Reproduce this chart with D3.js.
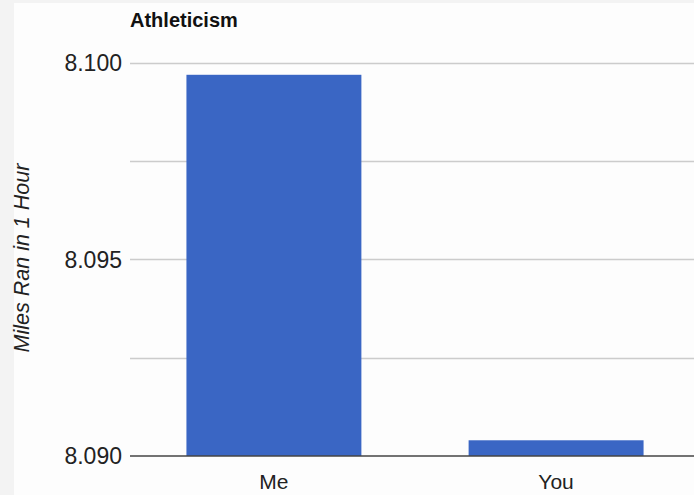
<!DOCTYPE html>
<html>
<head>
<meta charset="utf-8">
<script src="https://cdn.jsdelivr.net/npm/d3@7"></script>
<style>
  html, body { margin: 0; padding: 0; background: #fdfdfd; }
  svg { display: block; font-family: "Liberation Sans", Arial, sans-serif; }
</style>
</head>
<body>
<svg id="chart"></svg>
<script>
const categories = ["Me", "You"];
const values = [8.0997, 8.0904];
const gridTicks = [8.09, 8.0925, 8.095, 8.0975, 8.1];
const labelTicks = [8.09, 8.095, 8.1];

const width = 694;
const height = 495;
const plotLeft = 130;
const plotRight = 700;
const plotTop = 63;
const plotBottom = 456;

const svg = d3.select("#chart").attr("width", width).attr("height", height);

// faint frame at the left/top edge
svg.append("rect").attr("x", 0).attr("y", 0).attr("width", width).attr("height", height).attr("fill", "#fdfdfd");
svg.append("rect").attr("x", 0).attr("y", 0).attr("width", 14).attr("height", height).attr("fill", "#f3f3f3");
svg.append("rect").attr("x", 0).attr("y", 0).attr("width", width).attr("height", 3).attr("fill", "#f3f3f3");

const x = d3.scaleBand()
  .domain(categories)
  .range([plotLeft, plotRight])
  .paddingInner(0.38)
  .paddingOuter(0.2);

const y = d3.scaleLinear()
  .domain([8.09, 8.1])
  .range([plotBottom, plotTop]);

// gridlines
svg.append("g")
  .selectAll("line")
  .data(gridTicks.filter((t) => t !== 8.09))
  .enter()
  .append("line")
  .attr("x1", plotLeft)
  .attr("x2", width)
  .attr("y1", (d) => Math.round(y(d)) + 0.5)
  .attr("y2", (d) => Math.round(y(d)) + 0.5)
  .attr("stroke", "#cccccc")
  .attr("stroke-width", 1.5);

// bars
svg.append("g")
  .selectAll("rect")
  .data(categories)
  .enter()
  .append("rect")
  .attr("x", (d) => x(d))
  .attr("y", (d, i) => y(values[i]))
  .attr("width", x.bandwidth())
  .attr("height", (d, i) => plotBottom - y(values[i]))
  .attr("fill", "#3a66c4");

// baseline
svg.append("line")
  .attr("x1", plotLeft)
  .attr("x2", width)
  .attr("y1", y(8.09))
  .attr("y2", y(8.09))
  .attr("stroke", "#444444")
  .attr("stroke-width", 1.5);

// y tick labels
svg.append("g")
  .selectAll("text")
  .data(labelTicks)
  .enter()
  .append("text")
  .attr("x", 122)
  .attr("y", (d) => y(d))
  .attr("dy", "0.35em")
  .attr("text-anchor", "end")
  .attr("font-size", 23)
  .attr("fill", "#222")
  .text((d) => d3.format(".3f")(d));

// x labels
svg.append("g")
  .selectAll("text")
  .data(categories)
  .enter()
  .append("text")
  .attr("x", (d) => x(d) + x.bandwidth() / 2)
  .attr("y", 489)
  .attr("text-anchor", "middle")
  .attr("font-size", 21)
  .attr("fill", "#222")
  .text((d) => d);

// title
svg.append("text")
  .attr("x", 130)
  .attr("y", 27)
  .attr("font-size", 20)
  .attr("font-weight", "bold")
  .attr("fill", "#111")
  .text("Athleticism");

// y axis title
svg.append("text")
  .attr("transform", "translate(29,258) rotate(-90)")
  .attr("text-anchor", "middle")
  .attr("font-size", 21.5)
  .attr("font-style", "italic")
  .attr("fill", "#222")
  .text("Miles Ran in 1 Hour");
</script>
</body>
</html>
